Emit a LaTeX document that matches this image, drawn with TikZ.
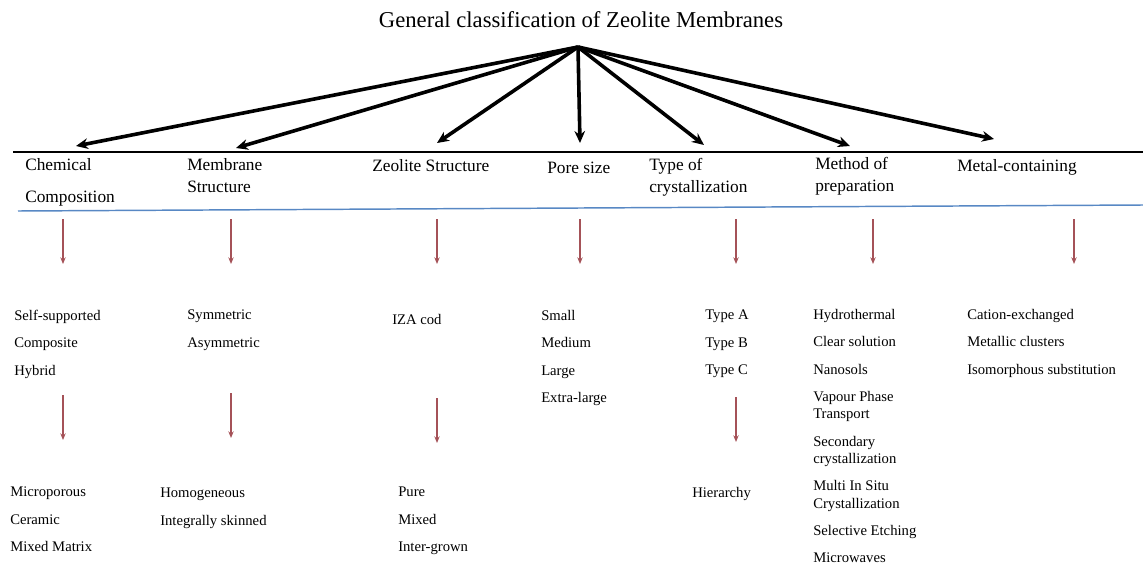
\documentclass[tikz,border=0pt]{standalone}
\usepackage{fontspec}
\setmainfont{Liberation Serif}
\usetikzlibrary{arrows.meta, positioning}
\definecolor{downred}{RGB}{165,82,88}
\definecolor{ruleblue}{RGB}{88,136,196}

\begin{document}
\begin{tikzpicture}[x=0.75pt, y=-0.75pt, >={Stealth[length=9pt,width=8pt]}]
	\tikzstyle{title}=[font=\fontsize{17}{20}\selectfont, inner sep=0pt]
	\tikzstyle{head}=[anchor=north west, align=left, inner sep=0pt, font=\fontsize{13}{16.5}\selectfont]
	\tikzstyle{item}=[anchor=north west, align=left, inner sep=0pt, font=\fontsize{11}{13}\selectfont]
	\tikzstyle{branch}=[->, line width=2.7pt]
	\tikzstyle{down}=[-{Stealth[length=5pt,width=4pt]}, draw=downred, line width=0.9pt]
	
	\useasboundingbox (0,0) rectangle (1143,564);
	
	\node[title, anchor=base] (gen) at (581,27) {General classification of Zeolite Membranes};
	\coordinate (apex) at (578,47);
	
	% categories
	\node[head] (chem) at (25,158) {Chemical\\[7.5pt]Composition};
	\node[head] (memb) at (187,158) {Membrane\\Structure};
	\node[head] (zeo) at (372,159) {Zeolite Structure};
	\node[head] (pore) at (547,162) {Pore size};
	\node[head] (type) at (649,158) {Type of\\crystallization};
	\node[head] (meth) at (815,157) {Method of\\preparation};
	\node[head] (metal) at (957,159) {Metal-containing};
	
	\coordinate (tchem) at (76,146);
	\coordinate (tmemb) at (236,148);
	\coordinate (tzeo) at (437,143);
	\coordinate (tpore) at (580,143);
	\coordinate (ttype) at (704,145);
	\coordinate (tmeth) at (850,146);
	\coordinate (tmetal) at (994,139);
	
	\foreach \t in {tchem, tmemb, tzeo, tpore, ttype, tmeth, tmetal}
		\draw[branch] (apex) -- (\t);
	
	\draw[line width=1.3pt] (13,152) -- (1143,152);
	\draw[ruleblue, line width=1.1pt] (18,211) -- (1143,205);
	
	% first level
	\node[item] (chemA) at (14,310) {Self-supported\\[7.5pt]Composite\\[7.5pt]Hybrid};
	\node[item] (membA) at (187,310) {Symmetric\\[7.5pt]Asymmetric};
	\node[item] (zeoA) at (392,314) {IZA cod};
	\node[item] (poreA) at (541,310) {Small\\[7.5pt]Medium\\[7.5pt]Large\\[7.5pt]Extra-large};
	\node[item] (typeA) at (705,310) {Type A\\[7.5pt]Type B\\[7.5pt]Type C};
	\node[item] (methA) at (813,309) {Hydrothermal\\[7.5pt]Clear solution\\[7.5pt]Nanosols\\[7.5pt]Vapour Phase\\Transport\\[7.5pt]Secondary\\crystallization\\[7.5pt]Multi In Situ\\Crystallization\\[7.5pt]Selective Etching\\[7.5pt]Microwaves};
	\node[item] (metalA) at (967,309) {Cation-exchanged\\[7.5pt]Metallic clusters\\[7.5pt]Isomorphous substitution};
	
	% second level
	\node[item] (chemB) at (10,487) {Microporous\\[7.5pt]Ceramic\\[7.5pt]Mixed Matrix};
	\node[item] (membB) at (160,488) {Homogeneous\\[7.5pt]Integrally skinned};
	\node[item] (zeoB) at (398,487) {Pure\\[7.5pt]Mixed\\[7.5pt]Inter-grown};
	\node[item] (typeB) at (692,487) {Hierarchy};
	
	\foreach \n/\x in {chem/63, memb/231, zeo/437, pore/580, type/736, meth/873, metal/1074} {
		\coordinate (\n s) at (\x,219);
		\coordinate (\n e) at (\x,264);
		\draw[down] (\n s) -- (\n e);
	}
	\foreach \n/\x/\y in {chem/63/395, memb/231/393, zeo/437/398, type/736/397} {
		\coordinate (\n u) at (\x,\y);
		\coordinate (\n v) at (\x,\y+45);
		\draw[down] (\n u) -- (\n v);
	}
\end{tikzpicture}
\end{document}
